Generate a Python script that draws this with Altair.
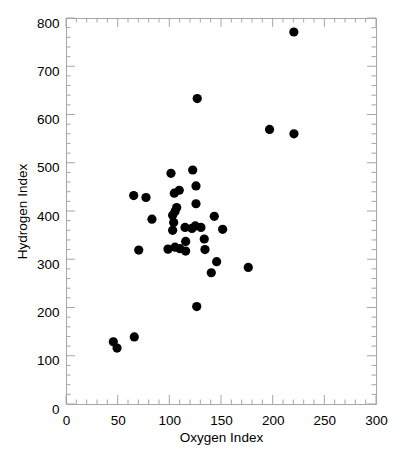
import altair as alt
import pandas as pd

# Scatter data
oxygen_index = [220.5, 197, 220.6, 127, 143.5, 101.6, 122.6, 65.5, 77.4, 125.8,
                104.8, 109.6, 125.8, 83.2, 107.1, 105.5, 103.2, 104.2, 103.2, 115.2,
                121.9, 125.1, 130.6, 151.6, 133.8, 115.8, 70.4, 98.7, 105.5, 110.3,
                115.8, 134.5, 145.8, 140.6, 126.5, 176.4, 45.8, 49.4, 66.1]
hydrogen_index = [771, 569, 560, 633, 389, 478, 485, 432, 428, 452,
                  437, 443, 415, 383, 407, 399, 391, 376, 360, 366,
                  364, 369, 366, 362, 342, 337, 319, 321, 325, 322,
                  317, 320, 295, 272, 202, 283, 129, 116, 139]

# Tick values
x_major = [0, 50, 100, 150, 200, 250, 300]
x_minor = [10, 20, 30, 40, 60, 70, 80, 90, 110, 120, 130, 140, 160, 170, 180, 190,
           210, 220, 230, 240, 260, 270, 280, 290]
y_major = [0, 100, 200, 300, 400, 500, 600, 700, 800]
y_minor = [20, 40, 60, 80, 120, 140, 160, 180, 220, 240, 260, 280, 320, 340, 360, 380,
           420, 440, 460, 480, 520, 540, 560, 580, 620, 640, 660, 680, 720, 740, 760, 780]

W, H = 310, 386
GRAY = "#a6a6a6"
FONT = "Liberation Sans"
MAJ, MIN = 9, 4.5

df = pd.DataFrame({"oxygen": oxygen_index, "hydrogen": hydrogen_index})
xs = alt.Scale(domain=[0, 300], nice=False, zero=False)
ys = alt.Scale(domain=[0, 800], nice=False, zero=False)

points = alt.Chart(df).mark_circle(size=85, color="black", opacity=1).encode(
    x=alt.X("oxygen:Q", scale=xs,
            axis=alt.Axis(values=x_major, title="Oxygen Index", ticks=False, domain=False,
                          grid=False, labelPadding=9, titlePadding=4,
                          labelFont=FONT, labelFontSize=13.5, labelColor="black",
                          titleFont=FONT, titleFontSize=13.5, titleFontWeight="normal",
                          titleColor="black", labelFlush=False)),
    y=alt.Y("hydrogen:Q", scale=ys,
            axis=alt.Axis(values=y_major, title="Hydrogen Index", ticks=False, domain=False,
                          grid=False, labelPadding=7, labelOffset=5, titlePadding=6.5,
                          labelFont=FONT, labelFontSize=13.5, labelColor="black",
                          titleFont=FONT, titleFontSize=13.5, titleFontWeight="normal",
                          titleColor="black", labelFlush=False)),
)


def xticks(vals, length, top):
    d = pd.DataFrame({"v": vals})
    y0, y1 = (0, length) if top else (H, H - length)
    return alt.Chart(d).mark_rule(color=GRAY, strokeWidth=1).encode(
        x=alt.X("v:Q", scale=xs), y=alt.value(y0), y2=alt.value(y1))


def yticks(vals, length, right):
    d = pd.DataFrame({"v": vals})
    x0, x1 = (W, W - length) if right else (0, length)
    return alt.Chart(d).mark_rule(color=GRAY, strokeWidth=1).encode(
        y=alt.Y("v:Q", scale=ys), x=alt.value(x0), x2=alt.value(x1))


chart = alt.layer(
    xticks(x_major, MAJ, False), xticks(x_minor, MIN, False),
    xticks(x_major, MAJ, True), xticks(x_minor, MIN, True),
    yticks(y_major, MAJ, False), yticks(y_minor, MIN, False),
    yticks(y_major, MAJ, True), yticks(y_minor, MIN, True),
    points,
).properties(
    width=W, height=H,
    autosize=alt.AutoSizeParams(type="none"),
    padding={"left": 58, "top": 10, "right": 19, "bottom": 44},
).configure_view(stroke=GRAY, strokeWidth=1)

chart.save("out.html", embed_options={"renderer": "svg", "actions": False})
